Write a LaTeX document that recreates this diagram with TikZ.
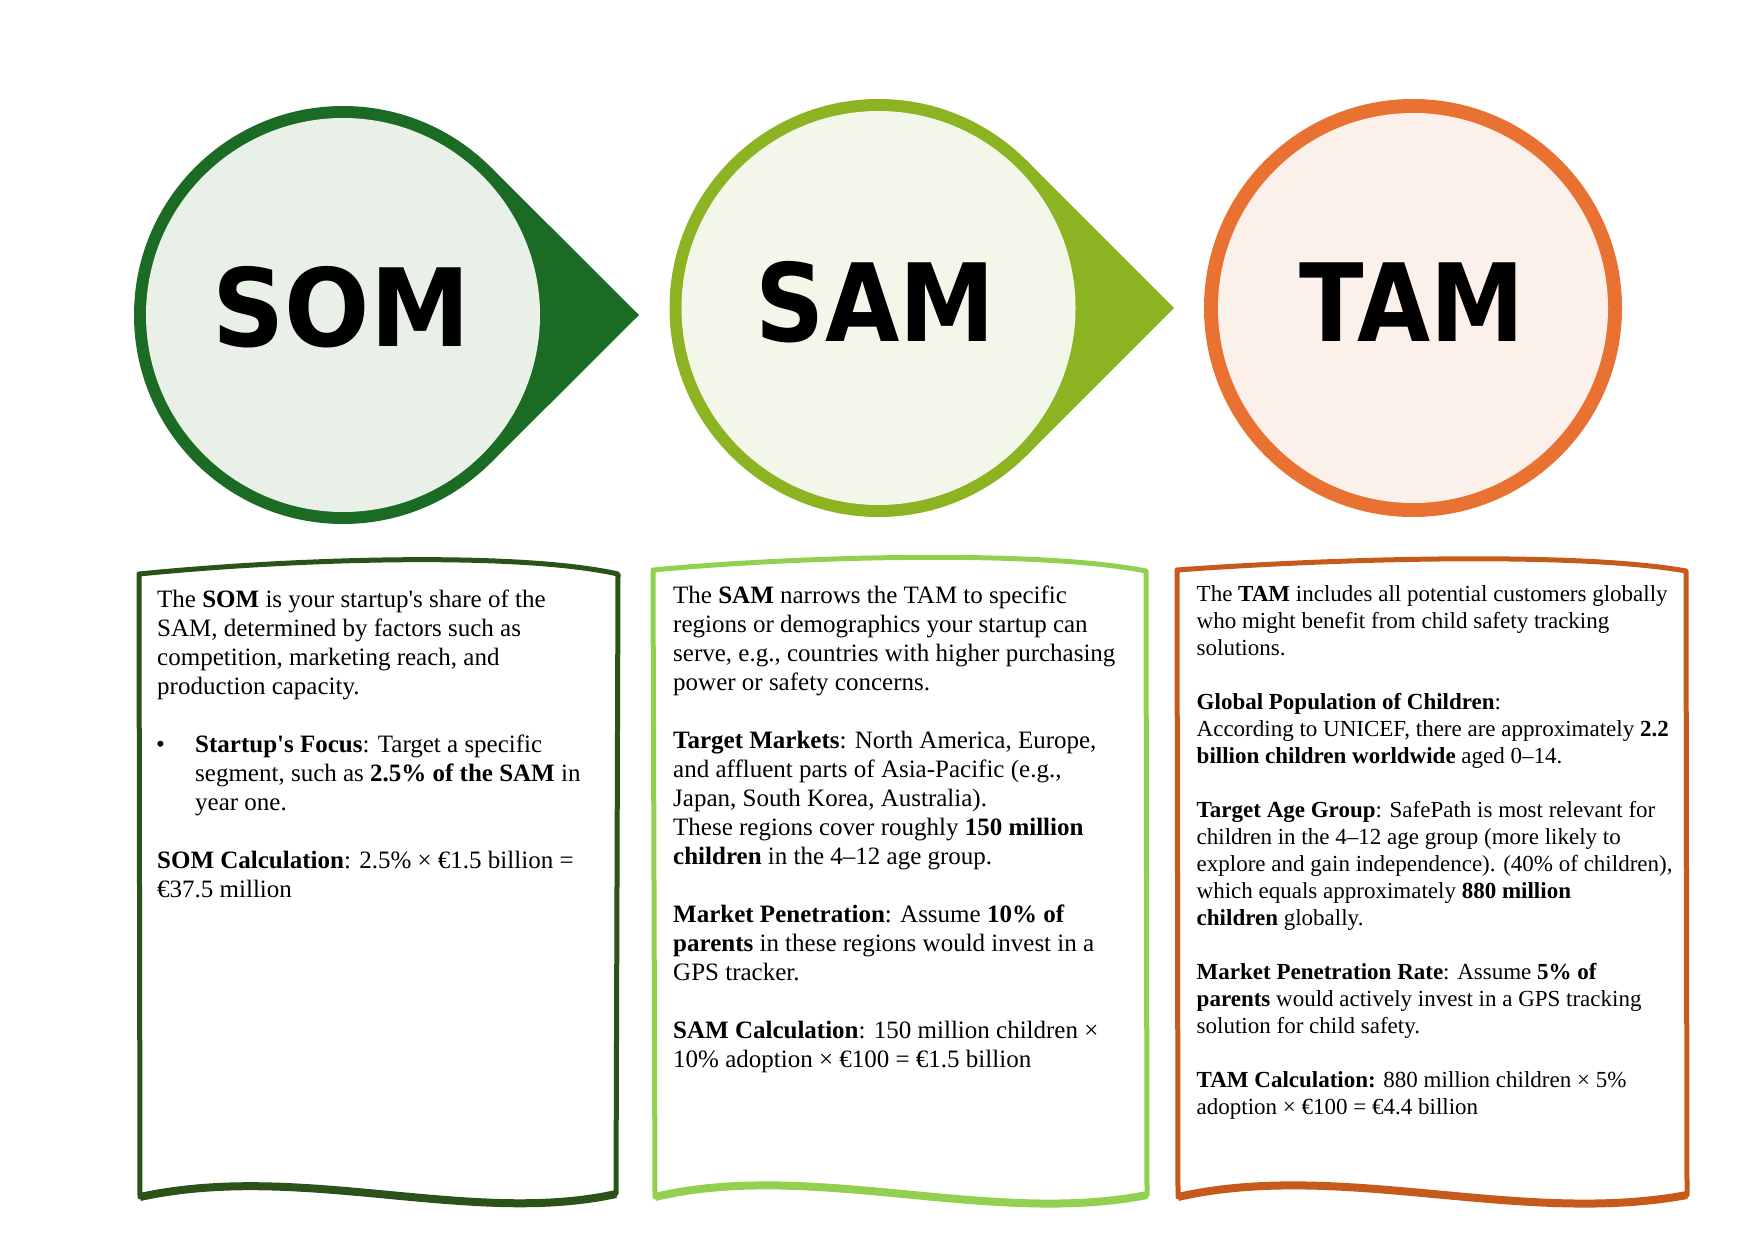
\documentclass[tikz,border=0pt]{standalone}
\usepackage{fontspec}
\setmainfont{Liberation Serif}
\newfontfamily\labelfont{DejaVu Sans}
\usepackage{graphicx}
\usetikzlibrary{calc}
\definecolor{somring}{HTML}{1B6B24}
\definecolor{somfill}{HTML}{E8F0E8}
\definecolor{samring}{HTML}{8CB321}
\definecolor{samfill}{HTML}{F2F7E9}
\definecolor{tamring}{HTML}{E97132}
\definecolor{tamfill}{HTML}{FCF0EA}
\definecolor{somframe}{HTML}{2B5219}
\definecolor{samframe}{HTML}{92D050}
\definecolor{tamframe}{HTML}{C55A1B}
\tikzset{
  framebox/.style={draw=#1, line width=5pt, line join=round},
  framebase/.style={draw=#1, line width=8pt},
  bigname/.style={font=\labelfont\bfseries\fontsize{108}{120}\selectfont,
    anchor=base, inner sep=0pt},
  bodytext/.style={font=\fontsize{25}{29}\selectfont, align=left,
    anchor=north west, inner sep=0pt},
  smalltext/.style={bodytext, font=\fontsize{23}{27}\selectfont},
}
\newcommand{\gap}{\\[\baselineskip]}
\newcommand{\bul}{\makebox[38pt][l]{\hspace{-1pt}\textbullet}}
\newcommand{\ind}{\hspace*{38pt}}
\newcommand{\apo}{\textquotesingle}
\begin{document}
\begin{tikzpicture}[x=1pt, y=-1pt]
    \useasboundingbox (0,0) rectangle (1755,1241);
    % centres of the three markers
    \coordinate (somc) at (343,315);
    \coordinate (samc) at (878.5,308);
    \coordinate (tamc) at (1413,308);
    % SOM marker
    \fill[somring] (somc) circle [radius=209pt];
    \fill[somring] (639,315) -- ($(somc)+(45:209pt)$) -- (somc)
        -- ($(somc)+(-45:209pt)$) -- cycle;
    \fill[somfill] (somc) circle [radius=197pt];
    % SAM marker
    \fill[samring] (samc) circle [radius=209pt];
    \fill[samring] (1174,308) -- ($(samc)+(45:209pt)$) -- (samc)
        -- ($(samc)+(-45:209pt)$) -- cycle;
    \fill[samfill] (samc) circle [radius=197pt];
    % TAM marker
    \fill[tamring] (tamc) circle [radius=209pt];
    \fill[tamfill] (tamc) circle [radius=195pt];
    \node[bigname] (somname) at (341.5,346) {\scalebox{0.93}[1]{SOM}};
    \node[bigname] (samname) at (875.5,341) {\scalebox{0.89}[1]{SAM}};
    \node[bigname] (tamname) at (1412,341) {\scalebox{0.875}[1]{TAM}};
    % frames
    \draw[framebox=somframe] (139,574) .. controls (300,558) and (520,552) .. (618,574)
        -- (616,1194) .. controls (470,1226) and (300,1162) .. (140,1197) -- cycle;
    \draw[framebase=somframe] (616,1194) .. controls (470,1226) and (300,1162) .. (140,1197);
    \draw[framebox=samframe] (653,570) .. controls (800,556) and (1040,550) .. (1146,571)
        -- (1147,1195) .. controls (990,1226) and (810,1160) .. (655,1197) -- cycle;
    \draw[framebase=samframe] (1147,1195) .. controls (990,1226) and (810,1160) .. (655,1197);
    \draw[framebox=tamframe] (1177,570) .. controls (1340,558) and (1580,552) .. (1686,571)
        -- (1687,1195) .. controls (1520,1226) and (1340,1160) .. (1178,1197) -- cycle;
    \draw[framebase=tamframe] (1687,1195) .. controls (1520,1226) and (1340,1160) .. (1178,1197);
    % texts
    \node[bodytext] (somtext) at (157,587) {\strut The \textbf{SOM} is your startup\apo s share of the\\
        SAM, determined by factors such as\\
        competition, marketing reach, and\\
        production capacity.\gap
        \bul\textbf{Startup\apo s Focus}: Target a specific\\
        \ind segment, such as \textbf{2.5\% of the SAM} in\\
        \ind year one.\gap
        \textbf{SOM Calculation}: 2.5\% × €1.5 billion =\\
        €37.5 million};
    \node[bodytext] (samtext) at (673,583) {\strut The \textbf{SAM} narrows the TAM to specific\\
        regions or demographics your startup can\\
        serve, e.g., countries with higher purchasing\\
        power or safety concerns.\gap
        \textbf{Target Markets}: North America, Europe,\\
        and affluent parts of Asia-Pacific (e.g.,\\
        Japan, South Korea, Australia).\\
        These regions cover roughly \textbf{150 million}\\
        \textbf{children} in the 4--12 age group.\gap
        \textbf{Market Penetration}: Assume \textbf{10\% of}\\
        \textbf{parents} in these regions would invest in a\\
        GPS tracker.\gap
        \textbf{SAM Calculation}: 150 million children ×\\
        10\% adoption × €100 = €1.5 billion};
    \node[smalltext] (tamtext) at (1196.5,582) {\strut The \textbf{TAM} includes all potential customers globally\\
        who might benefit from child safety tracking\\
        solutions.\gap
        \textbf{Global Population of Children}:\\
        According to UNICEF, there are approximately \textbf{2.2}\\
        \textbf{billion children worldwide} aged 0--14.\gap
        \textbf{Target Age Group}: SafePath is most relevant for\\
        children in the 4--12 age group (more likely to\\
        explore and gain independence). (40\% of children),\\
        which equals approximately \textbf{880 million}\\
        \textbf{children} globally.\gap
        \textbf{Market Penetration Rate}: Assume \textbf{5\% of}\\
        \textbf{parents} would actively invest in a GPS tracking\\
        solution for child safety.\gap
        \textbf{TAM Calculation:} 880 million children × 5\%\\
        adoption × €100 = €4.4 billion};
\end{tikzpicture}
\end{document}
